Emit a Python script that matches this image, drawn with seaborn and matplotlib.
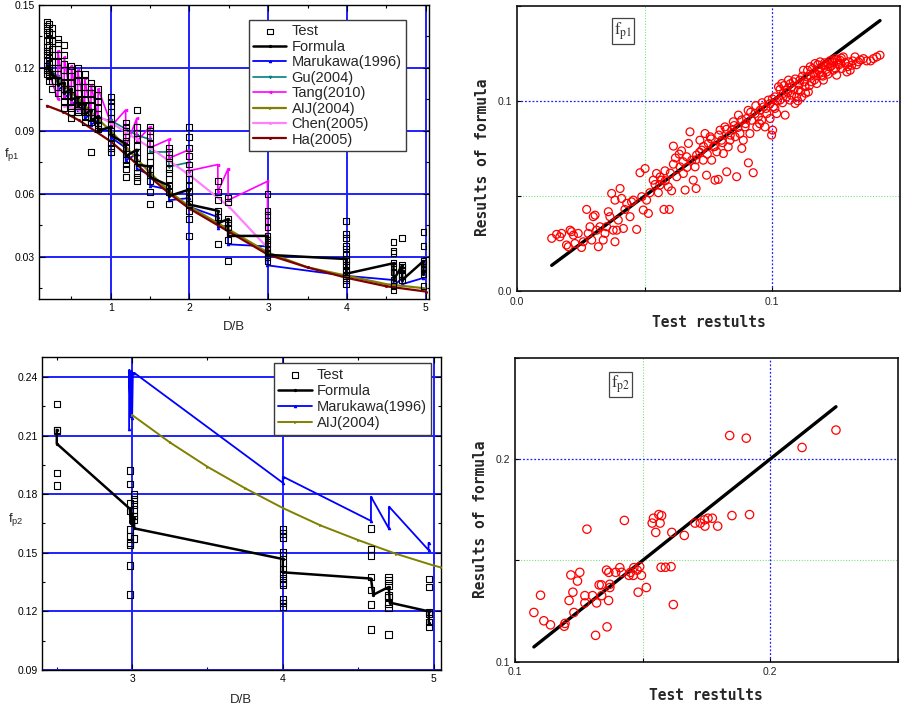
import matplotlib
matplotlib.use("Agg")
import matplotlib.pyplot as plt
import seaborn as sns
from matplotlib.ticker import MultipleLocator, FixedLocator, FixedFormatter, FormatStrFormatter

# ---------------- data: f_p1 vs D/B (top-left) ----------------
test1_groups = [0.19, 0.22, 0.25, 0.33, 0.41, 0.50, 0.58, 0.67, 0.75, 0.84, 1.0, 1.19, 1.33,
                1.5, 1.74, 1.99, 2.36, 2.49, 2.99, 3.99, 4.59, 4.70, 4.97]
test1_values = [
    [0.142, 0.140, 0.138, 0.136, 0.133, 0.130, 0.128, 0.126, 0.124, 0.121, 0.119, 0.117],
    [0.141, 0.137, 0.134, 0.131, 0.128, 0.125, 0.122, 0.120, 0.118, 0.116, 0.114],
    [0.139, 0.136, 0.133, 0.129, 0.126, 0.123, 0.120, 0.117, 0.114, 0.110],
    [0.134, 0.132, 0.129, 0.126, 0.123, 0.120, 0.117, 0.114, 0.111, 0.108],
    [0.131, 0.126, 0.122, 0.119, 0.116, 0.113, 0.110, 0.107, 0.104, 0.101],
    [0.121, 0.119, 0.116, 0.113, 0.110, 0.107, 0.104, 0.101, 0.099, 0.096],
    [0.120, 0.117, 0.114, 0.111, 0.108, 0.105, 0.102, 0.100, 0.099],
    [0.117, 0.114, 0.111, 0.108, 0.105, 0.102, 0.099, 0.097, 0.094],
    [0.113, 0.111, 0.108, 0.105, 0.102, 0.099, 0.096, 0.094, 0.080],
    [0.110, 0.107, 0.104, 0.101, 0.098, 0.095, 0.093, 0.091],
    [0.106, 0.104, 0.102, 0.099, 0.096, 0.093, 0.090, 0.087, 0.084, 0.082, 0.080],
    [0.094, 0.092, 0.090, 0.087, 0.085, 0.082, 0.079, 0.076, 0.074, 0.072, 0.068],
    [0.100, 0.092, 0.089, 0.086, 0.083, 0.080, 0.077, 0.073, 0.070, 0.068, 0.066],
    [0.092, 0.090, 0.087, 0.084, 0.081, 0.078, 0.075, 0.072, 0.069, 0.066, 0.061, 0.055],
    [0.082, 0.080, 0.077, 0.075, 0.072, 0.070, 0.067, 0.064, 0.061, 0.055],
    [0.092, 0.087, 0.082, 0.078, 0.074, 0.070, 0.067, 0.064, 0.061, 0.058, 0.055, 0.052, 0.048, 0.040],
    [0.066, 0.061, 0.057, 0.052, 0.049, 0.036],
    [0.058, 0.056, 0.048, 0.046, 0.044, 0.038, 0.028],
    [0.060, 0.052, 0.050, 0.047, 0.044, 0.040, 0.038, 0.036, 0.034, 0.032, 0.030, 0.028],
    [0.047, 0.041, 0.039, 0.035, 0.034, 0.031, 0.029, 0.028, 0.026, 0.024, 0.023, 0.021, 0.019, 0.017],
    [0.037, 0.033, 0.032, 0.027, 0.025, 0.023, 0.019, 0.016, 0.014],
    [0.039, 0.026, 0.025, 0.024, 0.022, 0.021, 0.019],
    [0.042, 0.035, 0.028, 0.027, 0.025, 0.024, 0.022, 0.016],
]

formula1_x = [0.19, 0.25, 0.33, 0.33, 0.41, 0.41, 0.50, 0.50, 0.58, 0.58, 0.67, 0.67, 0.75, 0.75,
              0.84, 0.84, 1.0, 1.0, 1.19, 1.19, 1.33, 1.33, 1.5, 1.5, 1.74, 1.74, 1.99, 1.99,
              2.36, 2.36, 2.49, 2.49, 2.99, 2.99, 3.99, 3.99, 4.59, 4.59, 4.70, 4.70, 4.97, 4.97]
formula1_y = [0.121, 0.117, 0.115, 0.112, 0.113, 0.108, 0.110, 0.105, 0.106, 0.102, 0.103, 0.098,
              0.100, 0.095, 0.097, 0.090, 0.092, 0.088, 0.084, 0.078, 0.081, 0.074, 0.073, 0.068,
              0.064, 0.059, 0.062, 0.055, 0.052, 0.046, 0.048, 0.040, 0.040, 0.031, 0.029, 0.022,
              0.027, 0.019, 0.026, 0.019, 0.028, 0.022]

maru1_x = [0.19, 0.25, 0.33, 0.33, 0.41, 0.41, 0.50, 0.50, 0.58, 0.58, 0.67, 0.67, 0.75, 0.75,
           0.84, 0.84, 1.0, 1.0, 1.19, 1.19, 1.33, 1.33, 1.5, 1.5, 1.74, 1.74, 1.99, 1.99,
           2.36, 2.36, 2.49, 2.49, 2.99, 2.99, 3.99, 4.59, 4.59, 4.70, 4.70, 4.97]
maru1_y = [0.123, 0.118, 0.113, 0.110, 0.111, 0.106, 0.108, 0.103, 0.104, 0.100, 0.101, 0.096,
           0.098, 0.093, 0.095, 0.091, 0.090, 0.087, 0.082, 0.076, 0.079, 0.072, 0.069, 0.064,
           0.062, 0.057, 0.058, 0.054, 0.049, 0.044, 0.045, 0.036, 0.035, 0.026, 0.021,
           0.019, 0.016, 0.020, 0.017, 0.020]

gu_x = [0.19, 0.33, 0.41, 0.50, 0.58, 0.67, 0.75, 0.84, 1.0, 1.19, 1.33, 1.5, 1.5, 1.74, 1.74, 1.99, 1.99]
gu_y = [0.120, 0.116, 0.112, 0.109, 0.105, 0.102, 0.099, 0.096, 0.095, 0.091, 0.088, 0.086, 0.080,
        0.080, 0.073, 0.075, 0.069]

tang_x = [0.19, 0.33, 0.33, 0.41, 0.41, 0.50, 0.50, 0.58, 0.58, 0.67, 0.67, 0.75, 0.75, 0.84, 0.84,
          1.0, 1.0, 1.19, 1.19, 1.33, 1.33, 1.5, 1.5, 1.74, 1.74, 1.99, 1.99, 2.36, 2.36, 2.49, 2.49,
          2.99, 2.99]
tang_y = [0.121, 0.105, 0.128, 0.106, 0.125, 0.104, 0.121, 0.101, 0.119, 0.100, 0.115, 0.098, 0.112,
          0.096, 0.110, 0.094, 0.092, 0.100, 0.082, 0.096, 0.085, 0.092, 0.082, 0.086, 0.077, 0.081,
          0.071, 0.074, 0.061, 0.072, 0.057, 0.066, 0.035]

aij1_x = [0.19, 0.4, 0.6, 0.8, 1.0, 1.25, 1.5, 1.75, 2.0, 2.5, 3.0, 3.5, 4.0, 4.5, 5.0]
aij1_y = [0.118, 0.112, 0.105, 0.097, 0.090, 0.080, 0.070, 0.061, 0.054, 0.043, 0.032, 0.025,
          0.021, 0.017, 0.015]

chen_x = [0.41, 0.6, 0.84, 1.0, 1.5, 2.0, 2.5, 3.0]
chen_y = [0.102, 0.100, 0.097, 0.094, 0.082, 0.069, 0.054, 0.034]

ha_x = [0.19, 0.4, 0.6, 0.8, 1.0, 1.25, 1.5, 1.75, 2.0, 2.5, 3.0, 3.5, 4.0, 4.5, 5.0]
ha_y = [0.102, 0.099, 0.095, 0.090, 0.085, 0.077, 0.068, 0.060, 0.053, 0.042, 0.031, 0.025,
        0.020, 0.016, 0.0135]

# ---------------- data: f_p2 vs D/B (bottom-left) ----------------
test2_groups = [2.5, 2.985, 3.013, 4.0, 4.585, 4.703, 4.969]
test2_values = [
    [0.2261, 0.2129, 0.2125, 0.1908, 0.1844],
    [0.1922, 0.1853, 0.1753, 0.1714, 0.1620, 0.1583, 0.1553, 0.1539, 0.1434, 0.1286],
    [0.1798, 0.1773, 0.1747, 0.1722, 0.1688, 0.1671, 0.1573],
    [0.1620, 0.1599, 0.1578, 0.1502, 0.1485, 0.1451, 0.1417, 0.1392, 0.1371, 0.1349, 0.1336,
     0.1261, 0.1244, 0.1222],
    [0.1624, 0.1519, 0.1485, 0.1375, 0.1310, 0.1234, 0.1107],
    [0.1375, 0.1358, 0.1332, 0.1281, 0.1273, 0.1239, 0.1217, 0.1081],
    [0.1366, 0.1324, 0.1197, 0.1186, 0.1146, 0.1120],
]

formula2_x = [2.5, 2.5, 2.985, 2.99, 3.0, 3.005, 3.013, 3.013, 4.0, 4.0, 4.585, 4.6, 4.703, 4.71,
              4.969, 4.969]
formula2_y = [0.2129, 0.2058, 0.1725, 0.1650, 0.1700, 0.1640, 0.1680, 0.1625, 0.1468, 0.1400,
              0.1368, 0.1285, 0.1325, 0.1245, 0.1200, 0.1140]

maru2_x = [2.98, 2.98, 2.99, 2.995, 3.0, 3.005, 3.015, 4.0, 4.0, 4.585, 4.585, 4.703, 4.705,
           4.967, 4.967]
maru2_y = [0.2135, 0.2435, 0.2200, 0.2430, 0.2190, 0.2420, 0.2420, 0.1858, 0.1890, 0.1663,
           0.1787, 0.1625, 0.1736, 0.1514, 0.1551]

aij2_x = [3.0, 3.25, 3.5, 3.75, 4.0, 4.25, 4.5, 4.75, 5.0, 5.05]
aij2_y = [0.2205, 0.2065, 0.1940, 0.1830, 0.1729, 0.1640, 0.1565, 0.1495, 0.1435, 0.1425]

# ---------------- data: test vs formula, f_p1 (top-right) ----------------
fp1_test = [0.0135, 0.0154, 0.0167, 0.0174, 0.0193, 0.0200, 0.0207, 0.0213, 0.0220, 0.0226,
            0.0239, 0.0252, 0.0259, 0.0272, 0.0278, 0.0285, 0.0292, 0.0298, 0.0305, 0.0311,
            0.0318, 0.0324, 0.0337, 0.0344, 0.0350, 0.0357, 0.0363, 0.0370, 0.0376, 0.0383,
            0.0383, 0.0390, 0.0396, 0.0403, 0.0409, 0.0416, 0.0422, 0.0429, 0.0442, 0.0448,
            0.0455, 0.0468, 0.0481, 0.0488, 0.0494, 0.0501, 0.0507, 0.0514, 0.0520, 0.0533,
            0.0546, 0.0553, 0.0559, 0.0566, 0.0575, 0.0579, 0.0592, 0.0596, 0.0605, 0.0612,
            0.0612, 0.0625, 0.0638, 0.0644, 0.0651, 0.0658, 0.0664, 0.0671, 0.0677, 0.0684,
            0.0690, 0.0697, 0.0701, 0.0703, 0.0716, 0.0723, 0.0729, 0.0736, 0.0742, 0.0749,
            0.0756, 0.0762, 0.0769, 0.0775, 0.0782, 0.0788, 0.0795, 0.0801, 0.0808, 0.0814,
            0.0821, 0.0827, 0.0834, 0.0841, 0.0847, 0.0854, 0.0860, 0.0867, 0.0873, 0.0880,
            0.0886, 0.0893, 0.0899, 0.0906, 0.0912, 0.0919, 0.0925, 0.0932, 0.0939, 0.0945,
            0.0952, 0.0958, 0.0965, 0.0971, 0.0978, 0.0984, 0.0991, 0.0997, 0.1001, 0.1004,
            0.1010, 0.1017, 0.1024, 0.1030, 0.1037, 0.1043, 0.1050, 0.1056, 0.1063, 0.1069,
            0.1076, 0.1082, 0.1089, 0.1095, 0.1102, 0.1108, 0.1115, 0.1122, 0.1128, 0.1135,
            0.1141, 0.1148, 0.1154, 0.1161, 0.1167, 0.1174, 0.1180, 0.1187, 0.1193, 0.1200,
            0.1207, 0.1213, 0.1220, 0.1226, 0.1233, 0.1239, 0.1246, 0.1252, 0.1259, 0.1265,
            0.1272, 0.1278, 0.1292, 0.1298, 0.1305, 0.1311, 0.1324, 0.1337, 0.1357, 0.1370,
            0.1396, 0.1409, 0.1422,
            0.0905, 0.0915, 0.0935, 0.0950, 0.0960, 0.0975, 0.0990, 0.1000, 0.1010, 0.1020,
            0.1030, 0.1040, 0.1045, 0.1055, 0.1060, 0.1070, 0.1075, 0.1085, 0.1090, 0.1100,
            0.1105, 0.1110, 0.1118, 0.1125, 0.1130, 0.1138, 0.1145, 0.1150, 0.1158, 0.1165,
            0.1170, 0.1178, 0.1185, 0.1190, 0.1198, 0.1205, 0.1210, 0.1218, 0.1225, 0.1232,
            0.1240, 0.1248, 0.1255, 0.1262, 0.1270, 0.1285, 0.1295, 0.1315, 0.1330, 0.1345,
            0.1385,
            0.0650, 0.0665, 0.0700, 0.0715, 0.0730, 0.0745, 0.0760, 0.0775, 0.0790,
            0.0805, 0.0820, 0.0835, 0.0850, 0.0865, 0.0880, 0.0895, 0.0600, 0.0580, 0.0560,
            0.0540, 0.0620, 0.0635]
fp1_formula = [0.0277, 0.0298, 0.0285, 0.0303, 0.0242, 0.0233, 0.0320, 0.0312, 0.0294, 0.0250,
               0.0303, 0.0229, 0.0259, 0.0429, 0.0303, 0.0338, 0.0268, 0.0391, 0.0399, 0.0320,
               0.0233, 0.0338, 0.0268, 0.0303, 0.0338, 0.0417, 0.0391, 0.0513, 0.0320, 0.0478,
               0.0259, 0.0320, 0.0373, 0.0539, 0.0487, 0.0329, 0.0429, 0.0461, 0.0391, 0.0469,
               0.0478, 0.0324, 0.0622, 0.0496, 0.0426, 0.0644, 0.0478, 0.0408, 0.0517, 0.0583,
               0.0618, 0.0517, 0.0557, 0.0583, 0.0429, 0.0632, 0.0548, 0.0429, 0.0527, 0.0762,
               0.0667, 0.0601, 0.0653, 0.0737, 0.0618, 0.0531, 0.0706, 0.0776, 0.0837, 0.0688,
               0.0583, 0.0653, 0.0539, 0.0715, 0.0793, 0.0741, 0.0688, 0.0828, 0.0609, 0.0776,
               0.0811, 0.0688, 0.0758, 0.0583, 0.0732, 0.0587, 0.0846, 0.0793, 0.0723, 0.0863,
               0.0627, 0.0758, 0.0793, 0.0846, 0.0890, 0.0811, 0.0601, 0.0925, 0.0828, 0.0750,
               0.0793, 0.0863, 0.0907, 0.0674, 0.0828, 0.0898, 0.0622, 0.0933, 0.0863, 0.0916,
               0.0951, 0.0898, 0.0968, 0.0863, 0.0933, 0.1004, 0.0907, 0.0820, 0.0846, 0.0968,
               0.1021, 0.0933, 0.1074, 0.1004, 0.1091, 0.1039, 0.0925, 0.1056, 0.1109, 0.1004,
               0.1074, 0.1100, 0.0986, 0.1021, 0.1056, 0.1109, 0.1021, 0.1161, 0.1074, 0.1126,
               0.1047, 0.1179, 0.1100, 0.1144, 0.1196, 0.1091, 0.1161, 0.1205, 0.1135, 0.1109,
               0.1187, 0.1152, 0.1196, 0.1179, 0.1214, 0.1161, 0.1222, 0.1135, 0.1196, 0.1214,
               0.1170, 0.1231, 0.1152, 0.1205, 0.1161, 0.1187, 0.1231, 0.1205, 0.1222, 0.1210,
               0.1222, 0.1231, 0.1240,
               0.0950, 0.0940, 0.0975, 0.0880, 0.0990, 0.0960, 0.0985, 0.1010, 0.0960, 0.1000,
               0.1060, 0.0990, 0.1080, 0.1020, 0.1045, 0.1090, 0.1030, 0.1060, 0.1115, 0.1000,
               0.1085, 0.1050, 0.1130, 0.1100, 0.1040, 0.1160, 0.1080, 0.1130, 0.1170, 0.1110,
               0.1140, 0.1190, 0.1150, 0.1175, 0.1130, 0.1200, 0.1165, 0.1140, 0.1210, 0.1185,
               0.1200, 0.1170, 0.1215, 0.1190, 0.1225, 0.1200, 0.1180, 0.1210, 0.1190, 0.1215,
               0.1210,
               0.0680, 0.0650, 0.0690, 0.0730, 0.0760, 0.0720, 0.0800, 0.0760, 0.0820,
               0.0780, 0.0850, 0.0820, 0.0870, 0.0860, 0.0900, 0.0880, 0.0620, 0.0580, 0.0600,
               0.0560, 0.0700, 0.0720]
fit1_x = [0.0135, 0.1422]
fit1_y = [0.0135, 0.1422]

# ---------------- data: test vs formula, f_p2 (bottom-right) ----------------
fp2_test = [0.1073, 0.1099, 0.1112, 0.1138, 0.1192, 0.1195, 0.1211, 0.1218, 0.1226, 0.1230,
            0.1244, 0.1253, 0.1273, 0.1273, 0.1281, 0.1303, 0.1315, 0.1319, 0.1329, 0.1338,
            0.1339, 0.1358, 0.1360, 0.1366, 0.1367, 0.1371, 0.1371, 0.1394, 0.1410, 0.1417,
            0.1428, 0.1446, 0.1452, 0.1463, 0.1465, 0.1478, 0.1482, 0.1488, 0.1495, 0.1514,
            0.1537, 0.1542, 0.1551, 0.1563, 0.1568, 0.1574, 0.1572, 0.1589, 0.1611, 0.1614,
            0.1620, 0.1663, 0.1705, 0.1726, 0.1742, 0.1744, 0.1756, 0.1773, 0.1794, 0.1841,
            0.1850, 0.1906, 0.1919, 0.2125, 0.2258]
fp2_formula = [0.1243, 0.1328, 0.1202, 0.1182, 0.1175, 0.1189, 0.1302, 0.1428, 0.1343, 0.1243,
               0.1398, 0.1441, 0.1326, 0.1290, 0.1654, 0.1326, 0.1130, 0.1290, 0.1379, 0.1379,
               0.1326, 0.1452, 0.1172, 0.1302, 0.1441, 0.1382, 0.1366, 0.1441, 0.1464, 0.1441,
               0.1697, 0.1426, 0.1441, 0.1426, 0.1464, 0.1452, 0.1343, 0.1469, 0.1426, 0.1366,
               0.1684, 0.1708, 0.1638, 0.1726, 0.1684, 0.1721, 0.1466, 0.1466, 0.1469, 0.1638,
               0.1282, 0.1623, 0.1684, 0.1684, 0.1700, 0.1669, 0.1708, 0.1708, 0.1669, 0.2116,
               0.1721, 0.2103, 0.1726, 0.2057, 0.2143]
fit2_x = [0.1073, 0.2258]
fit2_y = [0.1073, 0.2258]

# ---------------- styling ----------------
sns.set_theme(context="paper", style="ticks")
plt.rcParams["font.family"] = ["Liberation Sans", "DejaVu Sans"]
plt.rcParams["axes.edgecolor"] = "black"
plt.rcParams["axes.linewidth"] = 1.0
plt.rcParams["xtick.color"] = "black"
plt.rcParams["ytick.color"] = "black"

GRID_BLUE = "#2020ff"
fig = plt.figure(figsize=(9.01, 7.10), dpi=100)


def flatten(groups, values):
    xs, ys = [], []
    for g, vals in zip(groups, values):
        xs += [g] * len(vals)
        ys += list(vals)
    return xs, ys


def draw_line(ax, xs, ys, color, lw, marker, label, ms=2.5, z=3):
    sns.lineplot(x=xs, y=ys, sort=False, estimator=None, color=color, lw=lw,
                 marker=marker, ms=ms, mec=color, mfc=color, label=label, ax=ax, zorder=z)


def style_left(ax, xlim, ylim, xmajor, ymajor, ylabel_txt, ylab_pos, xlab_pos):
    ax.set_xlim(*xlim)
    ax.set_ylim(*ylim)
    ax.xaxis.set_major_locator(FixedLocator(xmajor))
    ax.xaxis.set_minor_locator(MultipleLocator(0.5))
    ax.yaxis.set_major_locator(FixedLocator(ymajor))
    ax.yaxis.set_minor_locator(MultipleLocator(0.015))
    ax.xaxis.set_major_formatter(FormatStrFormatter("%d"))
    ax.yaxis.set_major_formatter(FormatStrFormatter("%.2f"))
    ax.tick_params(which="both", direction="in", top=True, right=True, bottom=True, left=True,
                   labelsize=7.5, width=0.8, pad=3)
    ax.tick_params(which="major", length=4)
    ax.tick_params(which="minor", length=2.5)
    ax.grid(True, which="major", color=GRID_BLUE, lw=1.4)
    ax.set_axisbelow(True)
    for s in ax.spines.values():
        s.set_linewidth(1.0)
        s.set_color("black")
    ax.set_xlabel("")
    ax.set_ylabel("")
    ax.text(xlab_pos[0], xlab_pos[1], "D/B", transform=ax.transAxes, ha="center", va="center",
            fontsize=9.5)
    ax.text(ylab_pos[0], ylab_pos[1], ylabel_txt, transform=ax.transAxes, ha="center",
            va="center", fontsize=9.5)


def style_right(ax, lim, ticks, labels, green, blue, box_txt):
    ax.set_xlim(*lim)
    ax.set_ylim(*lim)
    for axis in (ax.xaxis, ax.yaxis):
        axis.set_major_locator(FixedLocator(ticks))
        axis.set_major_formatter(FixedFormatter(labels))
    ax.tick_params(which="both", direction="in", top=False, right=False, bottom=True, left=True,
                   labelsize=7.5, length=3, width=0.8, labelcolor="#222222", pad=4)
    for s in ax.spines.values():
        s.set_linewidth(1.2)
        s.set_color("#111111")
    ax.axvline(green, color="#7fe07f", lw=0.8, ls=(0, (1, 1.5)), zorder=0)
    ax.axhline(green, color="#7fe07f", lw=0.8, ls=(0, (1, 1.5)), zorder=0)
    ax.axvline(blue, color="#2020ff", lw=0.9, ls=(0, (1.5, 1.5)), zorder=0)
    ax.axhline(blue, color="#2020ff", lw=0.9, ls=(0, (1.5, 1.5)), zorder=0)
    ax.set_xlabel("")
    ax.set_ylabel("")
    ax.text(0.4995, -0.112, "Test restults", transform=ax.transAxes, ha="center", va="center",
            fontsize=10.5, family="DejaVu Sans Mono", fontweight="bold")
    ax.text(-0.090, 0.468, "Results of formula", transform=ax.transAxes, ha="center",
            va="center", rotation=90, fontsize=10.5, family="DejaVu Sans Mono", fontweight="bold")
    ax.text(0.276, 0.912, box_txt, transform=ax.transAxes, ha="center", va="center",
            fontsize=12, math_fontfamily="stix", color="#333333",
            bbox=dict(boxstyle="square,pad=0.12", fc="white", ec="#444444", lw=0.9))


def finish_legend(ax, anchor, fontsize, spacing):
    h, l = ax.get_legend_handles_labels()
    leg = ax.legend(h, l, loc="upper right", bbox_to_anchor=anchor, frameon=True, fancybox=False,
                    framealpha=1, fontsize=fontsize, handlelength=2.3, handletextpad=0.35,
                    labelspacing=spacing, borderpad=0.3, borderaxespad=0)
    leg.get_frame().set_edgecolor("#3a3a3a")
    leg.get_frame().set_linewidth(1.0)
    leg.set_zorder(10)


# ---------------- top-left ----------------
ax1 = fig.add_axes([0.0433, 0.579, 0.4328, 0.414])
t1x, t1y = flatten(test1_groups, test1_values)
sns.scatterplot(x=t1x, y=t1y, marker="s", s=18, fc="none", ec="black", linewidth=0.8,
                label="Test", ax=ax1, zorder=5)
draw_line(ax1, formula1_x, formula1_y, "black", 1.8, "o", "Formula", ms=1.6, z=4)
draw_line(ax1, maru1_x, maru1_y, "#0000ff", 1.3, "^", "Marukawa(1996)", ms=1.8)
draw_line(ax1, gu_x, gu_y, "#008080", 1.2, "v", "Gu(2004)", ms=1.8)
draw_line(ax1, tang_x, tang_y, "#ff00ff", 1.2, "<", "Tang(2010)", ms=1.8)
draw_line(ax1, aij1_x, aij1_y, "#808000", 1.6, ">", "AIJ(2004)", ms=1.4)
draw_line(ax1, chen_x, chen_y, "#ff80ff", 1.6, "o", "Chen(2005)", ms=1.4)
draw_line(ax1, ha_x, ha_y, "#800000", 1.6, "o", "Ha(2005)", ms=1.4)
style_left(ax1, (0.09, 5.04), (0.01, 0.15), [1, 2, 3, 4, 5],
           [0.03, 0.06, 0.09, 0.12, 0.15], r"f$_{\mathregular{p1}}$", (-0.069, 0.49),
           (0.5, -0.095))
finish_legend(ax1, (0.941, 0.949), 10.5, 0.1)

# ---------------- bottom-left ----------------
ax2 = fig.add_axes([0.0463, 0.0563, 0.4432, 0.4404])
t2x, t2y = flatten(test2_groups, test2_values)
sns.scatterplot(x=t2x, y=t2y, marker="s", s=22, fc="none", ec="black", linewidth=0.8,
                label="Test", ax=ax2, zorder=5)
draw_line(ax2, formula2_x, formula2_y, "black", 1.8, "o", "Formula", ms=1.6, z=4)
draw_line(ax2, maru2_x, maru2_y, "#0000ff", 1.3, "^", "Marukawa(1996)", ms=1.8)
draw_line(ax2, aij2_x, aij2_y, "#808000", 1.4, ">", "AIJ(2004)", ms=1.4)
style_left(ax2, (2.4, 5.05), (0.09, 0.25), [3, 4, 5],
           [0.09, 0.12, 0.15, 0.18, 0.21, 0.24], r"f$_{\mathregular{p2}}$", (-0.064, 0.483),
           (0.5, -0.096))
finish_legend(ax2, (0.975, 0.981), 10.5, 0.15)

# ---------------- top-right ----------------
ax3 = fig.add_axes([0.5741, 0.5901, 0.4247, 0.4018])
sns.lineplot(x=fit1_x, y=fit1_y, color="black", lw=2.4, sort=False, estimator=None, ax=ax3,
             zorder=2)
sns.scatterplot(x=fp1_test, y=fp1_formula, marker="o", s=32, fc="none", ec="#ff0000",
                linewidth=0.9, ax=ax3, zorder=3)
style_right(ax3, (0.0, 0.15), [0.0, 0.05, 0.1, 0.15], ["0.0", "", "0.1", ""], 0.05, 0.1,
            r"$\mathrm{f}_{\mathrm{p1}}$")

# ---------------- bottom-right ----------------
ax4 = fig.add_axes([0.5719, 0.0680, 0.4244, 0.4282])
sns.lineplot(x=fit2_x, y=fit2_y, color="black", lw=2.4, sort=False, estimator=None, ax=ax4,
             zorder=2)
sns.scatterplot(x=fp2_test, y=fp2_formula, marker="o", s=36, fc="none", ec="#ff0000",
                linewidth=0.9, ax=ax4, zorder=3)
style_right(ax4, (0.1, 0.25), [0.1, 0.15, 0.2, 0.25], ["0.1", "", "0.2", ""], 0.15, 0.2,
            r"$\mathrm{f}_{\mathrm{p2}}$")

fig.savefig("out.png", dpi=100)
